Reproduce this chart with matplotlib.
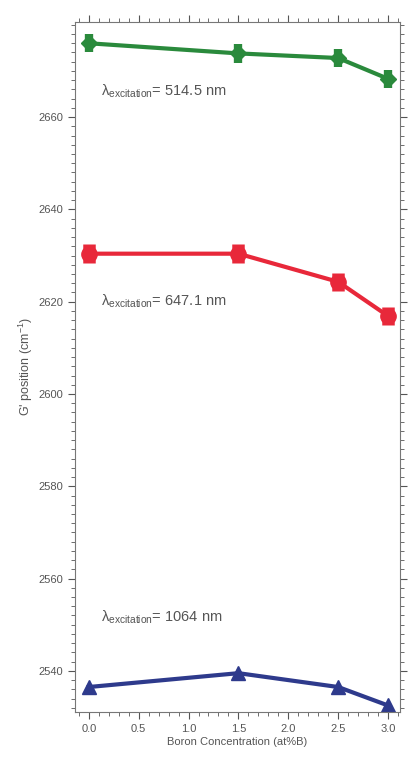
"""G' band position vs boron concentration for three excitation wavelengths."""

import matplotlib
matplotlib.use("Agg")
from matplotlib import pyplot as plt
from matplotlib.ticker import MultipleLocator, FixedLocator

boron = [0.0, 1.5, 2.5, 3.0]
g_514 = [2676.0, 2673.8, 2672.8, 2668.3]
g_647 = [2630.4, 2630.4, 2624.3, 2616.9]
g_1064 = [2536.5, 2539.5, 2536.5, 2532.5]
err_514 = [2.0, 2.0, 2.0, 2.0]
err_647 = [2.0, 2.0, 2.0, 2.0]
yticks = [2540, 2560, 2580, 2600, 2620, 2640, 2660]

labels = ["$\\lambda_{\\mathrm{excitation}}$= 514.5 nm",
          "$\\lambda_{\\mathrm{excitation}}$= 647.1 nm",
          "$\\lambda_{\\mathrm{excitation}}$= 1064 nm"]
label_pos = [(0.12, 2665.5), (0.12, 2620.0), (0.12, 2551.5)]

plt.rcParams['font.family'] = ['Liberation Sans', 'DejaVu Sans']
plt.rcParams['mathtext.fontset'] = 'custom'
plt.rcParams['mathtext.rm'] = 'Liberation Sans'
plt.rcParams['mathtext.it'] = 'Liberation Sans'
gray = '#555555'

fig = plt.figure(figsize=(4.09, 7.73), dpi=100)
ax = fig.add_axes([0.183, 0.079, 0.795, 0.8925])

ax.errorbar(boron, g_514, yerr=err_514, color='#2a8a3c', marker='D', ms=8,
            lw=3, elinewidth=6, capsize=0)
ax.errorbar(boron, g_647, yerr=err_647, color='#e8283a', marker='o', ms=11,
            lw=3, elinewidth=9, capsize=0)
ax.plot(boron, g_1064, color='#2e3a8c', marker='^', ms=10, lw=3)

for (x, y), t in zip(label_pos, labels):
    ax.text(x, y, t, fontsize=10.5, color=gray, va='center')

ax.set_xlim(-0.14, 3.12)
ax.set_ylim(2531.1, 2680.6)
ax.xaxis.set_major_locator(MultipleLocator(0.5))
ax.xaxis.set_minor_locator(MultipleLocator(0.1))
ax.yaxis.set_major_locator(FixedLocator(yticks))
ax.yaxis.set_minor_locator(MultipleLocator(2))
ax.xaxis.set_major_formatter(plt.FormatStrFormatter('%.1f'))
ax.tick_params(which='both', direction='out', top=True, right=True,
               colors=gray, labelsize=8)
ax.tick_params(which='major', length=5)
ax.tick_params(which='minor', length=3)
for s in ax.spines.values():
    s.set_color('#777777')

ax.set_xlabel("Boron Concentration (at%B)", fontsize=8, color=gray, labelpad=2)
ax.set_ylabel("G' position (cm$^{-1}$)", fontsize=9, color=gray, labelpad=2)

plt.savefig('out.png', dpi=100)
